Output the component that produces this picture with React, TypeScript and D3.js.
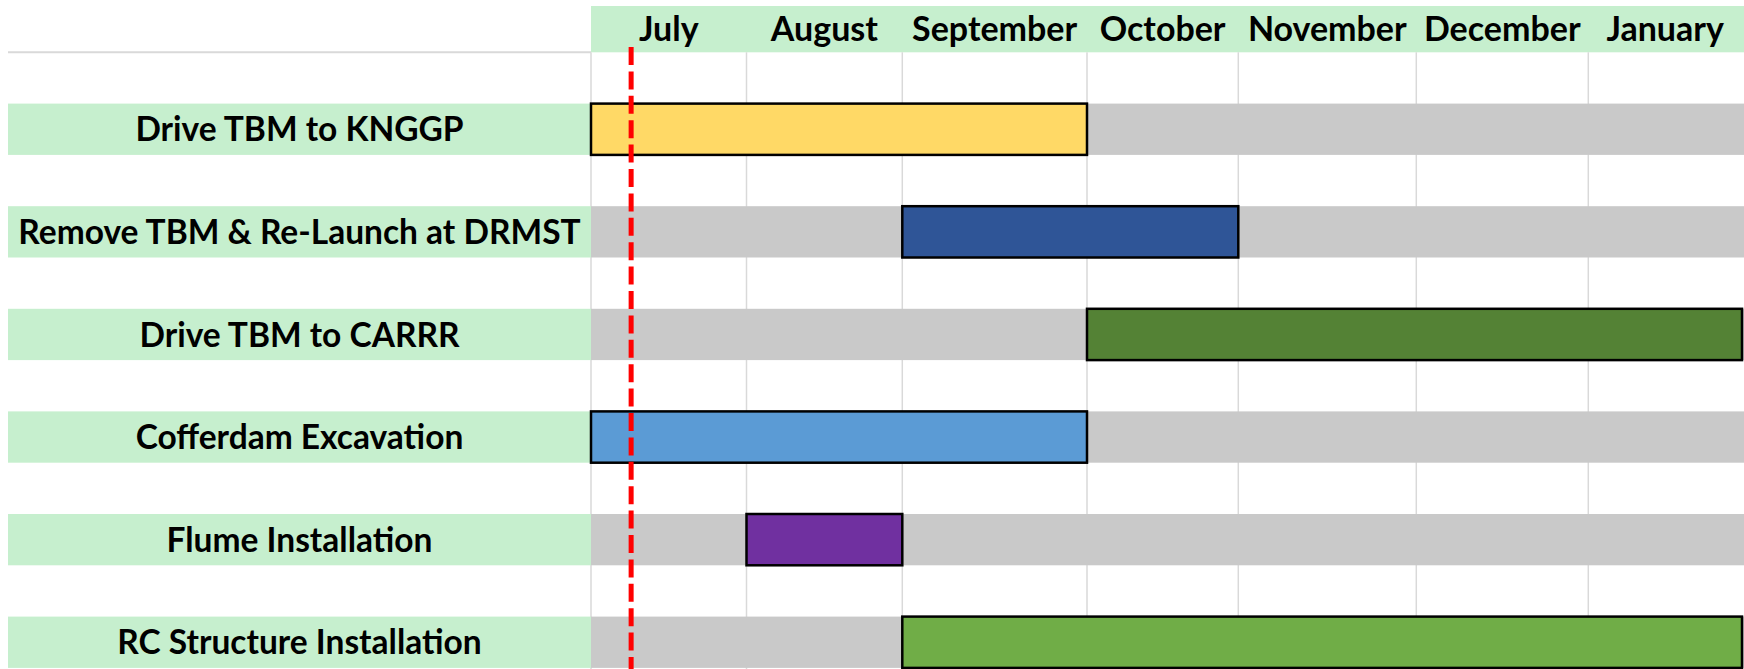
import * as d3 from "d3";

// month columns (widths follow the spreadsheet's column widths)
const months = ["July", "August", "September", "October", "November", "December", "January"];
const monthColumnWidths = [155.5, 155.8, 184.7, 151.3, 178, 172, 153.7];

const tasks = [
  "Drive TBM to KNGGP",
  "Remove TBM & Re-Launch at DRMST",
  "Drive TBM to CARRR",
  "Cofferdam Excavation",
  "Flume Installation",
  "RC Structure Installation",
];
// start / end as month column index (end exclusive)
const taskStart = [0, 2, 3, 0, 1, 2];
const taskEnd = [3, 4, 7, 3, 2, 7];
const taskColors = ["#FFD966", "#2F5597", "#548235", "#5B9BD5", "#7030A0", "#70AD47"];

// "today" marker
const todayMonth = "July";
const todayDay = 9;

const W = 1744;
const H = 669;

export default function App() {
  const labelLeft = 8;
  const chartLeft = 591;
  const headerTop = 6;
  const gridTop = 52.3;

  const edges = [chartLeft];
  monthColumnWidths.forEach((w, i) => edges.push(edges[i] + w));
  const x = d3
    .scaleLinear()
    .domain(d3.range(months.length + 1))
    .range(edges);
  const chartRight = x(months.length);

  const y = d3
    .scaleBand<string>()
    .domain(tasks)
    .range([103.6, 667.9])
    .paddingInner(0.5)
    .paddingOuter(0);

  const todayX = x(months.indexOf(todayMonth) + (todayDay - 1) / 31);

  const font = "Lato, 'Open Sans', sans-serif";

  return (
    <svg
      width={W}
      height={H}
      style={{ position: "absolute", left: 0, top: 0, background: "#fff" }}
    >
      {/* header */}
      <rect x={chartLeft} y={headerTop} width={chartRight - chartLeft + 2} height={gridTop - headerTop} fill="#C6EFCE" />
      {months.map((m, i) => (
        <text
          key={m}
          x={(x(i) + x(i + 1)) / 2}
          y={(headerTop + gridTop) / 2}
          dy="0.36em"
          textAnchor="middle"
          fontFamily={font}
          fontWeight={700}
          fontSize={34}
          fill="#000"
        >
          {m}
        </text>
      ))}
      <line x1={labelLeft} x2={chartLeft} y1={gridTop} y2={gridTop} stroke="#D9D9D9" strokeWidth={2} />

      {/* vertical grid */}
      {d3.range(months.length).map((i) => (
        <line key={i} x1={x(i)} x2={x(i)} y1={gridTop} y2={H} stroke="#D9D9D9" strokeWidth={1.5} />
      ))}

      {/* rows */}
      {tasks.map((t, i) => {
        const top = y(t)!;
        const bh = y.bandwidth();
        return (
          <g key={t}>
            <rect x={labelLeft} y={top} width={chartLeft - labelLeft} height={bh} fill="#C6EFCE" />
            <text
              x={(labelLeft + chartLeft) / 2}
              y={top + bh / 2}
              dy="0.36em"
              textAnchor="middle"
              fontFamily={font}
              fontWeight={700}
              fontSize={33.5}
              fill="#000"
            >
              {t}
            </text>
            <rect x={chartLeft} y={top} width={chartRight - chartLeft + 2} height={bh} fill="#C9C9C9" />
            <rect
              x={x(taskStart[i])}
              y={top}
              width={x(taskEnd[i]) - x(taskStart[i])}
              height={bh}
              fill={taskColors[i]}
              stroke="#000"
              strokeWidth={2.5}
            />
          </g>
        );
      })}

      {/* today line */}
      <line
        x1={todayX}
        x2={todayX}
        y1={47}
        y2={H}
        stroke="#FF0000"
        strokeWidth={5}
        strokeDasharray="18 6.4"
      />
    </svg>
  );
}
